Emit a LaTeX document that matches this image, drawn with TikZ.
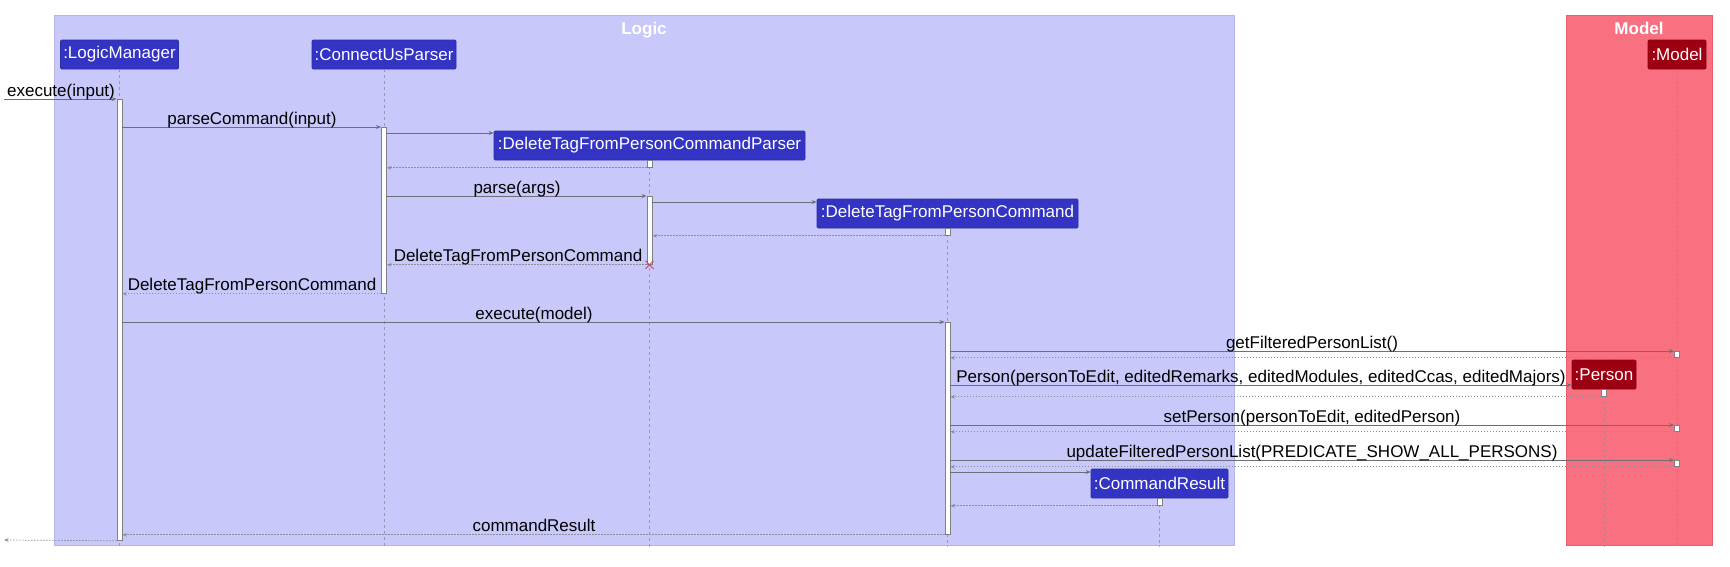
\documentclass[tikz,border=0pt]{standalone}
\usepackage{fontspec}
\setmainfont{Liberation Sans}
\usetikzlibrary{arrows.meta}
\definecolor{logicbg}{HTML}{C8C8FA}
\definecolor{logicbd}{HTML}{B4B4E6}
\definecolor{modelbg}{HTML}{F97181}
\definecolor{modelbd}{HTML}{E86070}
\definecolor{partblue}{HTML}{3333C4}
\definecolor{partred}{HTML}{9D0012}
\definecolor{msggray}{HTML}{6E6E78}
\definecolor{retgray}{HTML}{8C8C96}
\definecolor{lifegray}{HTML}{8C8CA0}
\definecolor{killred}{HTML}{D03C5A}
\begin{document}
\begin{tikzpicture}[x=1pt,y=-1pt,
  txt/.style={font=\fontsize{17}{20}\selectfont},
  part/.style={txt, text=white, fill=partblue, draw=partblue!85!black, line width=0.6pt, inner sep=0pt, minimum height=29pt, rounded corners=1pt},
  mpart/.style={part, fill=partred, draw=partred!85!black},
  act/.style={draw=gray, fill=white, line width=0.8pt, minimum width=5pt, inner sep=0pt, anchor=north},
  life/.style={draw=lifegray, line width=0.8pt, dash pattern=on 3pt off 3pt, opacity=0.8},
  msg/.style={draw=msggray, line width=0.9pt, -{Stealth[length=5pt,width=4pt]}},
  ret/.style={draw=retgray, line width=0.7pt, dash pattern=on 1.5pt off 1.5pt, -{Stealth[length=4.5pt,width=3.5pt]}},
  kill/.style={draw=killred, line width=0.9pt},
  lbl/.style={txt, anchor=base, inner sep=0pt},
  gtitle/.style={font=\fontsize{17}{20}\selectfont\bfseries, text=white, anchor=base, inner sep=0pt}
]
\path[use as bounding box, fill=white] (0,0) rectangle (1730,566);

% groups
\draw[fill=logicbg, draw=logicbd, line width=0.8pt] (54,15) rectangle (1234,545);
\draw[fill=modelbg, draw=modelbd, line width=0.8pt] (1566,15) rectangle (1712,545);
\node[gtitle] (tLogic) at (644,34) {Logic};
\node[gtitle] (tModel) at (1639,34) {Model};

% y levels
\coordinate (yEnd) at (0,547);
\coordinate (yC) at (0,133);
\coordinate (yF) at (0,202);
\coordinate (yL) at (0,385);
\coordinate (yO) at (0,472);
\coordinate (in) at (4,99);
\coordinate (out) at (4,540);

% participants
\node[part, minimum width=118pt] (pLM) at (119.5,54.5) {:LogicManager};
\node[part, minimum width=144pt] (pCUP) at (384,54.5) {:ConnectUsParser};
\node[part, minimum width=311pt] (pP) at (649.5,145.5) {:DeleteTagFromPersonCommandParser};
\node[part, minimum width=261pt] (pC) at (947.5,213.5) {:DeleteTagFromPersonCommand};
\node[part, minimum width=137pt] (pCR) at (1159.5,483.5) {:CommandResult};
\node[mpart, minimum width=64pt] (pPer) at (1604,374.5) {:Person};
\node[mpart, minimum width=58pt] (pM) at (1677,54.5) {:Model};

% lifelines
\foreach \p in {pLM,pCUP,pP,pC,pCR,pPer,pM}
  \draw[life] (\p.south) -- (\p.south |- yEnd);

% activation bars
\node[act, minimum height=441pt] (aLM) at (119.5,99) {};
\node[act, minimum height=166pt] (aCUP) at (384,127) {};
\node[act, minimum height=7pt] (aP1) at (649.5,160) {};
\node[act, minimum height=68pt] (aP2) at (649.5,196) {};
\node[act, minimum height=7pt] (aC1) at (947.5,228) {};
\node[act, minimum height=212pt] (aC2) at (947.5,322) {};
\node[act, minimum height=6pt] (aM1) at (1677,351) {};
\node[act, minimum height=6pt] (aM2) at (1677,425) {};
\node[act, minimum height=6pt] (aM3) at (1677,460) {};
\node[act, minimum height=7pt] (aPer) at (1604,389) {};
\node[act, minimum height=7pt] (aCR) at (1159.5,498) {};

% messages
\draw[msg] (in) -- (aLM.north west);
\draw[msg] (aLM.east |- aCUP.north) -- (aCUP.north west);
\draw[msg] (aCUP.east |- yC) -- (pP.west |- yC);
\draw[ret] (aP1.south west) -- (aCUP.east |- aP1.south);
\draw[msg] (aCUP.east |- aP2.north) -- (aP2.north west);
\draw[msg] (aP2.east |- yF) -- (pC.west |- yF);
\draw[ret] (aC1.south west) -- (aP2.east |- aC1.south);
\draw[ret] (aP2.south west) -- (aCUP.east |- aP2.south);
\draw[kill] ([shift={(-4,-4)}]aP2.south) -- ([shift={(4,4)}]aP2.south);
\draw[kill] ([shift={(-4,4)}]aP2.south) -- ([shift={(4,-4)}]aP2.south);
\draw[ret] (aCUP.south west) -- (aLM.east |- aCUP.south);
\draw[msg] (aLM.east |- aC2.north) -- (aC2.north west);
\draw[msg] (aC2.east |- aM1.north) -- (aM1.north west);
\draw[ret] (aM1.south west) -- (aC2.east |- aM1.south);
\draw[msg] (aC2.east |- yL) -- (pPer.west |- yL);
\draw[ret] (aPer.south west) -- (aC2.east |- aPer.south);
\draw[msg] (aC2.east |- aM2.north) -- (aM2.north west);
\draw[ret] (aM2.south west) -- (aC2.east |- aM2.south);
\draw[msg] (aC2.east |- aM3.north) -- (aM3.north west);
\draw[ret] (aM3.south west) -- (aC2.east |- aM3.south);
\draw[msg] (aC2.east |- yO) -- (pCR.west |- yO);
\draw[ret] (aCR.south west) -- (aC2.east |- aCR.south);
\draw[ret] (aC2.south west) -- (aLM.east |- aC2.south);
\draw[ret] (aLM.south west) -- (out);

% labels
\node[lbl] (l1) at (61,96) {execute(input)};
\node[lbl] (l2) at (252,124) {parseCommand(input)};
\node[lbl] (l3) at (517,193) {parse(args)};
\node[lbl] (l4) at (518,261) {DeleteTagFromPersonCommand};
\node[lbl] (l5) at (252,290) {DeleteTagFromPersonCommand};
\node[lbl] (l6) at (534,319) {execute(model)};
\node[lbl] (l7) at (1312,348) {getFilteredPersonList()};
\node[lbl] (l8) at (1261,382) {Person(personToEdit, editedRemarks, editedModules, editedCcas, editedMajors)};
\node[lbl] (l9) at (1312,422) {setPerson(personToEdit, editedPerson)};
\node[lbl] (l10) at (1312,457) {updateFilteredPersonList(PREDICATE\_SHOW\_ALL\_PERSONS)};
\node[lbl] (l11) at (534,531) {commandResult};
\end{tikzpicture}
\end{document}
